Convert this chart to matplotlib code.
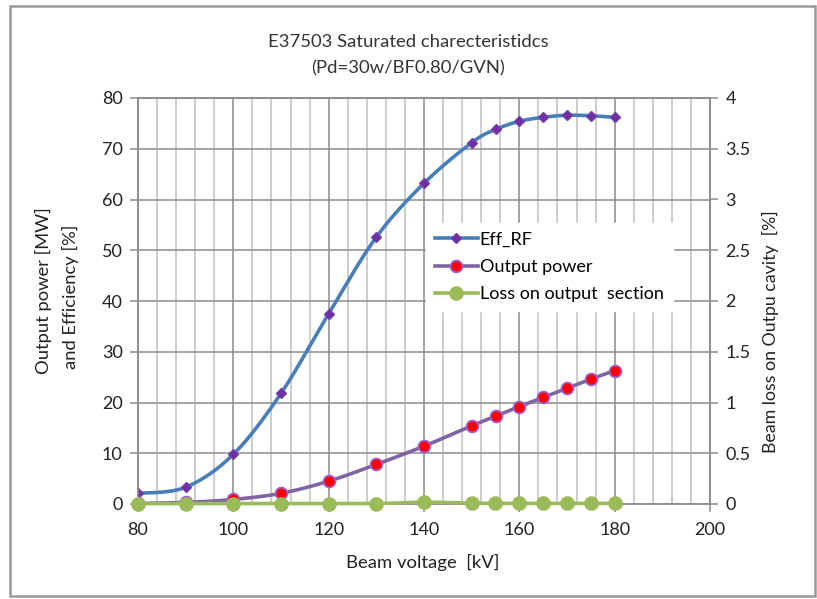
import numpy as np
import matplotlib
matplotlib.use("Agg")
import matplotlib.pyplot as plt
import matplotlib.ticker as mticker
from matplotlib.patches import Rectangle

plt.rcParams['font.family'] = ['Lato', 'DejaVu Sans']

# data
voltage = [80, 90, 100, 110, 120, 130, 140, 150, 155, 160, 165, 170, 175, 180]
eff_rf = [2.1, 3.3, 9.8, 21.8, 37.5, 52.6, 63.2, 71.2, 73.8, 75.4, 76.2, 76.6, 76.5, 76.2]
out_power = [0.1, 0.3, 0.9, 2.1, 4.5, 7.8, 11.4, 15.4, 17.3, 19.2, 21.0, 22.8, 24.6, 26.3]
beam_loss = [0.004, 0.004, 0.004, 0.004, 0.004, 0.004, 0.018, 0.008, 0.006, 0.006, 0.006, 0.006, 0.006, 0.006]

title_lines = ["E37503 Saturated charecteristidcs", "(Pd=30w/BF0.80/GVN)"]


def smooth(x, y, n=20, t=1/6):
    # excel-like smoothed line: bezier segments through the points
    x = np.asarray(x, float)
    y = np.asarray(y, float)
    px, py = [], []
    for i in range(len(x) - 1):
        i0 = max(i - 1, 0)
        i3 = min(i + 2, len(x) - 1)
        c1x = x[i] + (x[i + 1] - x[i0]) * t
        c1y = y[i] + (y[i + 1] - y[i0]) * t
        c2x = x[i + 1] - (x[i3] - x[i]) * t
        c2y = y[i + 1] - (y[i3] - y[i]) * t
        s = np.linspace(0, 1, n, endpoint=(i == len(x) - 2))
        a = (1 - s) ** 3
        b = 3 * (1 - s) ** 2 * s
        c = 3 * (1 - s) * s ** 2
        d = s ** 3
        px.extend(a * x[i] + b * c1x + c * c2x + d * x[i + 1])
        py.extend(a * y[i] + b * c1y + c * c2y + d * y[i + 1])
    return px, py


fig = plt.figure(figsize=(8.17, 5.99), dpi=100)
fig.patches.append(Rectangle((10 / 817, 1 - 596 / 599), 805 / 817, 590 / 599,
                             transform=fig.transFigure, fill=False,
                             edgecolor='#9a9a9a', lw=1.8))

ax = fig.add_axes([138 / 817, 1 - 504 / 599, 572 / 817, 406 / 599])
ax2 = ax.twinx()

ax.set_xlim(80, 200)
ax.set_ylim(0, 80)
ax2.set_ylim(0, 4)

ax.xaxis.set_major_locator(mticker.MultipleLocator(20))
ax.xaxis.set_minor_locator(mticker.MultipleLocator(4))
ax.yaxis.set_major_locator(mticker.MultipleLocator(10))
ax2.yaxis.set_major_locator(mticker.MultipleLocator(0.5))
ax2.yaxis.set_major_formatter(mticker.FuncFormatter(lambda v, p: ('%g' % v)))

ax.grid(which='major', axis='both', color='#8c8c8c', lw=1.1)
ax.grid(which='minor', axis='x', color='#c0c0c0', lw=1.1)
ax.set_axisbelow(True)

for a in (ax, ax2):
    for sp in a.spines.values():
        sp.set_color('#8c8c8c')
        sp.set_linewidth(1.1)
    a.tick_params(which='major', direction='out', length=6, color='#8c8c8c',
                  labelsize=13, labelcolor='#222222', width=1.1)
    a.tick_params(which='minor', length=0)
ax.tick_params(axis='x', pad=7)
ax.tick_params(axis='y', pad=5)
ax2.tick_params(axis='y', pad=5)

sx, sy = smooth(voltage, eff_rf)
ax.plot(sx, sy, color='#4a7ebb', lw=2.6, zorder=3)
ax.plot(voltage, eff_rf, ls='none', marker='D', ms=5.5, mfc='#7030a0',
        mec='#7040b0', zorder=4)

sx, sy = smooth(voltage, out_power)
ax.plot(sx, sy, color='#8064a2', lw=2.6, zorder=3)
ax.plot(voltage, out_power, ls='none', marker='o', ms=8.5, mfc='#ff0000',
        mec='#a060c8', mew=1.3, zorder=4)

sx, sy = smooth(voltage, beam_loss)
ax2.plot(sx, sy, color='#9bbb59', lw=2.6, zorder=3, clip_on=False)
ax2.plot(voltage, beam_loss, ls='none', marker='o', ms=9.5, mfc='#9bbb59',
         mec='#9bbb59', zorder=4, clip_on=False)

# legend proxies
h1, = ax.plot([], [], color='#4a7ebb', lw=2.6, marker='D', ms=5.5,
              mfc='#7030a0', mec='#7040b0')
h2, = ax.plot([], [], color='#8064a2', lw=2.6, marker='o', ms=8.5,
              mfc='#ff0000', mec='#a060c8', mew=1.3)
h3, = ax.plot([], [], color='#9bbb59', lw=2.6, marker='o', ms=9.5,
              mfc='#9bbb59', mec='#9bbb59')
leg = ax2.legend([h1, h2, h3], ['Eff_RF', 'Output power', 'Loss on output  section'],
                 loc='upper left', bbox_to_anchor=(0.487, 0.715), frameon=True,
                 fancybox=False, edgecolor='white', facecolor='white',
                 framealpha=1, fontsize=13, handlelength=2.4, handletextpad=0.1,
                 labelspacing=0.62, borderpad=0.5)
leg.set_zorder(10)

fig.text(0.5, 1 - 42 / 599, title_lines[0], ha='center', va='center',
         fontsize=13.3, color='#333333')
fig.text(0.5, 1 - 68 / 599, title_lines[1], ha='center', va='center',
         fontsize=13.3, color='#333333')
fig.text(423 / 817, 1 - 562 / 599, 'Beam voltage  [kV]', ha='center', va='center',
         fontsize=13.3, color='#222222')
fig.text(43 / 817, 1 - 291 / 599, 'Output power [MW]', ha='center', va='center',
         rotation=90, fontsize=13.2, color='#222222')
fig.text(70 / 817, 1 - 297 / 599, 'and Efficiency [%]', ha='center', va='center',
         rotation=90, fontsize=13.2, color='#222222')
fig.text(770 / 817, 1 - 332 / 599, 'Beam loss on Outpu cavity  [%]', ha='center',
         va='center', rotation=90, fontsize=12.8, color='#222222')

fig.savefig('out.png', dpi=100)
